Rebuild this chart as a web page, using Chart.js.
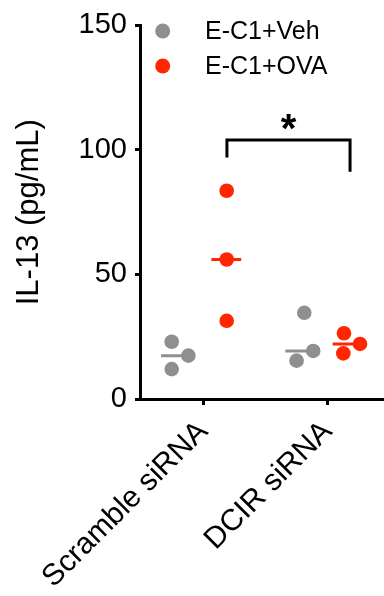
<!DOCTYPE html>
<html>
<head>
<meta charset="utf-8">
<script src="https://cdn.jsdelivr.net/npm/chart.js@4"></script>
<style>
  html, body { margin: 0; padding: 0; background: #fff; }
  canvas { display: block; }
</style>
</head>
<body>
<canvas id="il13Chart" width="384" height="596"></canvas>
<script>
const categories = ['Scramble siRNA', 'DCIR siRNA'];
const seriesNames = ['E-C1+Veh', 'E-C1+OVA'];
const vehValues = [[23.0, 17.4, 12.0], [34.6, 19.3, 15.4]];
const ovaValues = [[83.6, 56.0, 31.4], [26.4, 22.1, 18.3]];
const yTicks = [0, 50, 100, 150];
const xTicks = [1, 2];
// horizontal scatter of each dot, in category widths
const vehJitter = [[-0.254, -0.12, -0.254], [-0.188, -0.116, -0.25]];
const ovaJitter = [[0.188, 0.188, 0.188], [0.131, 0.26, 0.126]];
const vehCenter = [-0.22, -0.22];
const ovaCenter = [0.185, 0.16];
const medianHalf = 0.12;
// significance bracket: Scramble OVA vs DCIR OVA
const sigPair = [1.19, 2.18];
const sigLevels = [97, 104, 91.2]; // left foot, top, right foot
const sigLabel = '*';

const FONT = '"Liberation Sans", Arial, Helvetica, sans-serif';
const GREY = '#8f8f8f';
const RED = '#ff2600';
const seriesColors = [GREY, RED];

Chart.defaults.font.family = FONT;
Chart.defaults.color = '#000';

function median(arr) {
  const s = [...arr].sort((a, b) => a - b);
  const m = Math.floor(s.length / 2);
  return s.length % 2 ? s[m] : (s[m - 1] + s[m]) / 2;
}

function dots(values, jitter) {
  const out = [];
  values.forEach((group, i) => {
    group.forEach((v, j) => out.push({ x: xTicks[i] + jitter[i][j], y: v }));
  });
  return out;
}

function medianLines(values, centers, color) {
  return values.map((group, i) => {
    const c = xTicks[i] + centers[i];
    const m = median(group);
    return {
      type: 'line',
      data: [{ x: c - medianHalf, y: m }, { x: c + medianHalf, y: m }],
      borderColor: color,
      borderWidth: 3,
      pointRadius: 0,
      showLine: true
    };
  });
}

const overlay = {
  id: 'overlay',
  afterDatasetsDraw(chart) {
    const ctx = chart.ctx;
    const x = chart.scales.x, y = chart.scales.y;
    ctx.save();
    const rows = [31, 66];
    seriesNames.forEach((name, i) => {
      ctx.fillStyle = seriesColors[i];
      ctx.beginPath();
      ctx.arc(162.7, rows[i], 7.5, 0, Math.PI * 2);
      ctx.fill();
      ctx.fillStyle = '#000';
      ctx.font = '25px ' + FONT;
      ctx.textAlign = 'left';
      ctx.textBaseline = 'middle';
      ctx.fillText(name, 205, rows[i] + 1);
    });
    ctx.font = 'bold 40px ' + FONT;
    ctx.textAlign = 'center';
    ctx.textBaseline = 'alphabetic';
    ctx.fillText(sigLabel, x.getPixelForValue((sigPair[0] + sigPair[1]) / 2), y.getPixelForValue(sigLevels[1]) + 2);
    ctx.restore();
  }
};

new Chart(document.getElementById('il13Chart').getContext('2d'), {
  type: 'scatter',
  data: {
    datasets: [
      {
        label: seriesNames[0],
        data: dots(vehValues, vehJitter),
        backgroundColor: GREY,
        borderWidth: 0,
        pointRadius: 7.3
      },
      {
        label: seriesNames[1],
        data: dots(ovaValues, ovaJitter),
        backgroundColor: RED,
        borderWidth: 0,
        pointRadius: 7.3
      },
      ...medianLines(vehValues, vehCenter, GREY),
      ...medianLines(ovaValues, ovaCenter, RED),
      {
        type: 'line',
        data: [
          { x: sigPair[0], y: sigLevels[0] },
          { x: sigPair[0], y: sigLevels[1] },
          { x: sigPair[1], y: sigLevels[1] },
          { x: sigPair[1], y: sigLevels[2] }
        ],
        borderColor: '#000',
        borderWidth: 3,
        pointRadius: 0,
        showLine: true,
        borderJoinStyle: 'miter'
      }
    ]
  },
  options: {
    responsive: false,
    animation: false,
    layout: { autoPadding: false, padding: { top: 25, right: 0, left: 0, bottom: 0 } },
    plugins: {
      legend: { display: false },
      tooltip: { enabled: false }
    },
    scales: {
      x: {
        type: 'linear',
        min: 0.491,
        max: 2.453,
        afterBuildTicks: (axis) => { axis.ticks = xTicks.map(v => ({ value: v })); },
        afterFit: (axis) => {
          axis.height = 197;
          axis.paddingLeft = 0;
          axis.paddingRight = 0;
        },
        ticks: {
          autoSkip: false,
          minRotation: 45,
          maxRotation: 45,
          padding: 9,
          font: { size: 30 },
          callback: (v) => categories[v - 1]
        },
        grid: { drawOnChartArea: false, drawTicks: true, tickLength: 6, color: '#000', lineWidth: 3 },
        border: { color: '#000', width: 3 }
      },
      y: {
        min: 0,
        max: 150,
        afterBuildTicks: (axis) => { axis.ticks = yTicks.map(v => ({ value: v })); },
        afterFit: (axis) => { axis.width = 140; },
        ticks: { padding: 8, font: { size: 29 } },
        grid: { drawOnChartArea: false, drawTicks: true, tickLength: 5, color: '#000', lineWidth: 3 },
        border: { color: '#000', width: 3 },
        title: {
          display: true,
          text: 'IL-13 (pg/mL)',
          font: { size: 31 },
          padding: { top: 11, bottom: 0 }
        }
      }
    }
  },
  plugins: [overlay]
});
</script>
</body>
</html>
